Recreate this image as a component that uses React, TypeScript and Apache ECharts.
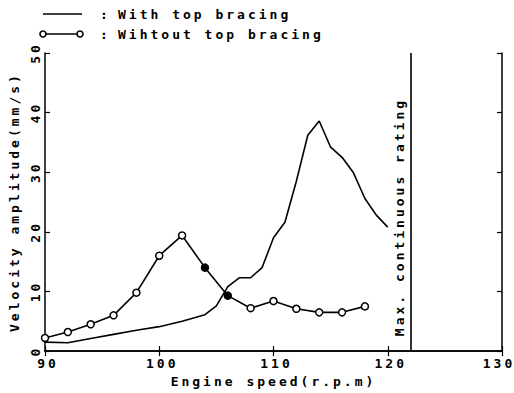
import React, { useEffect, useRef } from "react";
import * as echarts from "echarts";

const withSpeed = [90, 92, 94, 96, 98, 100, 102, 104, 105, 106, 107, 108, 109, 110, 111, 112, 113, 114, 115, 116, 117, 118, 119, 120];
const withAmp = [1.5, 1.4, 2.1, 2.8, 3.5, 4.1, 5.0, 6.1, 7.6, 10.8, 12.3, 12.3, 14.0, 19.0, 21.6, 28.5, 36.2, 38.6, 34.2, 32.5, 29.9, 25.6, 22.8, 20.8];

const withoutSpeed = [90, 92, 94, 96, 98, 100, 102, 104, 106, 108, 110, 112, 114, 116, 118];
const withoutAmp = [2.2, 3.2, 4.5, 6.0, 9.8, 16.0, 19.4, 14.0, 9.3, 7.2, 8.4, 7.1, 6.5, 6.5, 7.5];
const filledSpeeds = [104, 106];

const xTicks = { min: 90, max: 130, interval: 10 };
const yTicks = { min: 0, max: 50, interval: 10 };
const ratingSpeed = 122;

const FONT = "DejaVu Sans Mono";

export default function App() {
  const ref = useRef<HTMLDivElement>(null);
  useEffect(() => {
    if (!ref.current) return;
    const chart = echarts.init(ref.current, undefined, { renderer: "svg" });
    const txt = { color: "#000", fontFamily: FONT, fontSize: 13, fontWeight: "bold" as const };
    const axisCommon = {
      axisLine: { show: true, lineStyle: { color: "#000", width: 1.5 } },
      axisTick: { show: true, inside: true, length: 5, lineStyle: { color: "#000", width: 1.2 } },
      splitLine: { show: false },
    };
    chart.setOption({
      animation: false,
      backgroundColor: "#fff",
      grid: { left: 45, right: 12, top: 53, bottom: 41 },
      xAxis: [
        {
          type: "value",
          ...xTicks,
          ...axisCommon,
          position: "bottom",
          name: "Engine speed(r.p.m)",
          nameLocation: "middle",
          nameGap: 23,
          nameTextStyle: txt,
          axisLabel: {
            ...txt,
            margin: 6,
            formatter: (v: number) => (v === xTicks.max ? `{e|${v}}` : `{n|${v}}`),
            rich: {
              n: { ...txt, padding: [0, 0, 0, 6] },
              e: { ...txt, padding: [0, 6, 0, 0] },
            },
          },
        },
        {
          type: "value",
          ...xTicks,
          ...axisCommon,
          position: "top",
          axisLabel: { show: false },
        },
      ],
      yAxis: [
        {
          type: "value",
          ...yTicks,
          ...axisCommon,
          position: "left",
          name: "Velocity amplitude(mm/s)",
          nameLocation: "middle",
          nameRotate: 90,
          nameGap: 24,
          nameMoveOverlap: false,
          nameTextStyle: txt,
          axisLabel: { ...txt, rotate: 90, margin: 3, align: "center", verticalAlign: "bottom" },
        },
        {
          type: "value",
          ...yTicks,
          ...axisCommon,
          position: "right",
          axisLabel: { show: false },
        },
      ],
      graphic: [
        { type: "line", shape: { x1: 43, y1: 14, x2: 82, y2: 14 }, style: { stroke: "#000", lineWidth: 1.6 } },
        { type: "text", x: 100, y: 14, style: { text: ":", fill: "#000", font: `bold 13px "${FONT}"`, verticalAlign: "middle" } },
        { type: "text", x: 118, y: 14, style: { text: "With top bracing", fill: "#000", font: `bold 13px "${FONT}"`, verticalAlign: "middle" } },
        { type: "line", shape: { x1: 43, y1: 34, x2: 80, y2: 34 }, style: { stroke: "#000", lineWidth: 1.6 } },
        { type: "circle", shape: { cx: 43, cy: 34, r: 3 }, style: { fill: "#fff", stroke: "#000", lineWidth: 1.6 } },
        { type: "circle", shape: { cx: 80, cy: 34, r: 3 }, style: { fill: "#fff", stroke: "#000", lineWidth: 1.6 } },
        { type: "text", x: 100, y: 34, style: { text: ":", fill: "#000", font: `bold 13px "${FONT}"`, verticalAlign: "middle" } },
        { type: "text", x: 118, y: 34, style: { text: "Wihtout top bracing", fill: "#000", font: `bold 13px "${FONT}"`, verticalAlign: "middle" } },
      ],
      series: [
        {
          name: "With top bracing",
          type: "line",
          data: withSpeed.map((s, i) => [s, withAmp[i]]),
          showSymbol: false,
          symbol: "none",
          lineStyle: { color: "#000", width: 1.6 },
          itemStyle: { color: "#000" },
        },
        {
          name: "Wihtout top bracing",
          type: "line",
          data: withoutSpeed.map((s, i) =>
            filledSpeeds.includes(s)
              ? { value: [s, withoutAmp[i]], itemStyle: { color: "#000", borderColor: "#000" } }
              : [s, withoutAmp[i]]
          ),
          symbol: "circle",
          symbolSize: 7,
          lineStyle: { color: "#000", width: 1.6 },
          itemStyle: { color: "#fff", borderColor: "#000", borderWidth: 1.5 },
          markLine: {
            silent: true,
            symbol: ["none", "none"],
            lineStyle: { color: "#000", width: 1.6, type: "solid" },
            label: {
              show: true,
              position: "insideMiddleTop",
              formatter: "Max. continuous rating",
              distance: 5,
              padding: [0, 30, 0, 0],
              ...txt,
            },
            data: [{ xAxis: ratingSpeed }],
          },
        },
      ],
    });
    return () => chart.dispose();
  }, []);
  return (
    <div
      ref={ref}
      style={{ position: "fixed", left: 0, top: 0, width: 514, height: 393, letterSpacing: "3px" }}
    />
  );
}
